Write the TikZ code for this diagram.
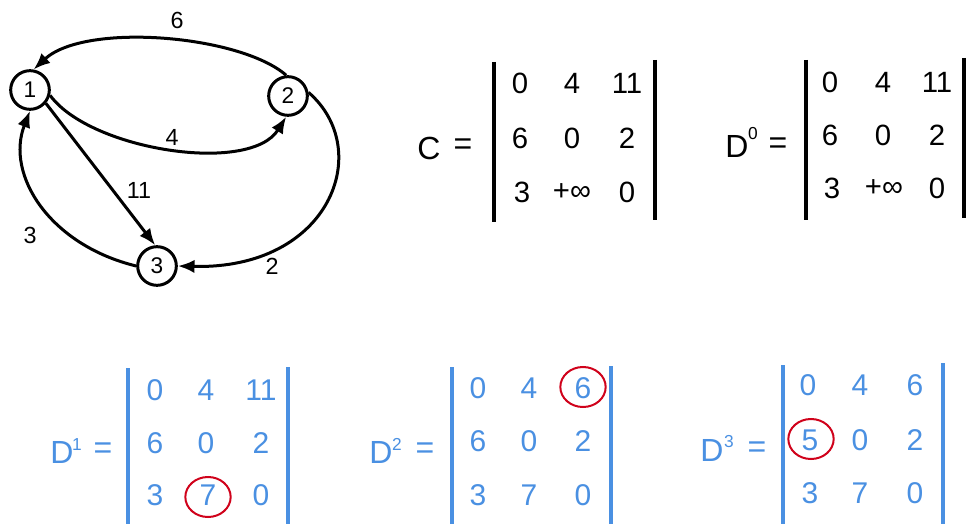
\documentclass[tikz,border=0pt]{standalone}
\usepackage{fontspec}
\setmainfont{Liberation Sans}
\usetikzlibrary{arrows.meta,shapes.geometric}
\definecolor{bl}{HTML}{4A90E2}
\definecolor{rd}{HTML}{D0021B}
\begin{document}
\begin{tikzpicture}[x=0.75pt,y=-0.75pt,
  vert/.style={draw, circle, line width=2.25pt, minimum size=29pt, inner sep=0pt, font=\fontsize{17}{20}\selectfont},
  edge/.style={line width=2.25pt, -{Latex[length=12.5pt,width=10pt]}},
  elab/.style={font=\fontsize{17.5}{20}\selectfont, inner sep=0pt},
  ent/.style={font=\fontsize{22}{26}\selectfont, inner sep=0pt},
  bent/.style={font=\fontsize{22.5}{27}\selectfont, inner sep=0pt, text=bl},
  big/.style={font=\fontsize{24}{28}\selectfont, inner sep=0pt},
  sup/.style={font=\fontsize{13}{15}\selectfont, inner sep=0pt},
  bar/.style={line width=3pt},
  bbar/.style={line width=2.6pt, draw=bl},
  hl/.style={draw=rd, ellipse, line width=1.5pt, minimum width=34pt, minimum height=30pt, inner sep=0pt}
]
\useasboundingbox (0,0) rectangle (967,524);

% graph
\node[vert] (n1) at (30,90) {1};
\node[vert] (n2) at (288,96) {2};
\node[vert] (n3) at (157,266) {3};

\draw[edge] (n2.95) .. controls (240,35) and (85,22) .. (n1.80);
\draw[edge] (n1.-15) .. controls (90,150) and (250,175) .. (n2.-95);
\draw[edge] (n1.-40) -- (n3.95);
\draw[edge] (n3.180) .. controls (50,245) and (5,175) .. (n1.-90);
\draw[edge] (n2.10) .. controls (375,150) and (330,270) .. (n3.0);

\node[elab] (l6) at (177,20) {6};
\node[elab] (l4) at (172,137) {4};
\node[elab] (l11) at (139,190) {11};
\node[elab] (l3) at (30,235) {3};
\node[elab] (l2) at (272,266) {2};

% matrix C
\node[big] (cC) at (429,148) {C};
\node[big] (cEq) at (463,147) {=};
\coordinate (cL1) at (494,62); \coordinate (cL2) at (494,222);
\coordinate (cR1) at (655,60); \coordinate (cR2) at (655,220);
\draw[bar] (cL1) -- (cL2);
\draw[bar] (cR1) -- (cR2);
\node[ent] (c11) at (520,83) {0};
\node[ent] (c12) at (572,83) {4};
\node[ent] (c13) at (627,83) {11};
\node[ent] (c21) at (520,138) {6};
\node[ent] (c22) at (572,138) {0};
\node[ent] (c23) at (627,138) {2};
\node[ent] (c31) at (522,192) {3};
\node[ent] (c32) at (572,192) {+∞};
\node[ent] (c33) at (627,192) {0};

% matrix D0
\node[big] (d0D) at (737,146) {D};
\node[sup] (d0s) at (753,134) {0};
\node[big] (d0Eq) at (778,146) {=};
\coordinate (d0L1) at (806,60); \coordinate (d0L2) at (806,220);
\coordinate (d0R1) at (964,58); \coordinate (d0R2) at (964,218);
\draw[bar] (d0L1) -- (d0L2);
\draw[bar] (d0R1) -- (d0R2);
\node[ent] (a11) at (830,82) {0};
\node[ent] (a12) at (883,82) {4};
\node[ent] (a13) at (937,82) {11};
\node[ent] (a21) at (830,135) {6};
\node[ent] (a22) at (883,135) {0};
\node[ent] (a23) at (937,135) {2};
\node[ent] (a31) at (832,188) {3};
\node[ent] (a32) at (884,188) {+∞};
\node[ent] (a33) at (937,188) {0};

% matrix D1
\node[big, text=bl] (d1D) at (62,452) {D};
\node[sup, text=bl] (d1s) at (77,445) {1};
\node[big, text=bl] (d1Eq) at (103,451) {=};
\coordinate (d1L1) at (128,368); \coordinate (d1L2) at (128,524);
\coordinate (d1R1) at (288,367); \coordinate (d1R2) at (288,524);
\draw[bbar] (d1L1) -- (d1L2);
\draw[bbar] (d1R1) -- (d1R2);
\node[bent] (b11) at (155,390) {0};
\node[bent] (b12) at (206,390) {4};
\node[bent] (b13) at (261,390) {11};
\node[bent] (b21) at (155,443) {6};
\node[bent] (b22) at (206,443) {0};
\node[bent] (b23) at (261,443) {2};
\node[bent] (b31) at (155,495) {3};
\node[bent] (b32) at (208,495) {7};
\node[bent] (b33) at (261,495) {0};
\node[hl] (h1) at (208,497) {};

% matrix D2
\node[big, text=bl] (d2D) at (381,452) {D};
\node[sup, text=bl] (d2s) at (397,444) {2};
\node[big, text=bl] (d2Eq) at (425,451) {=};
\coordinate (d2L1) at (452,367); \coordinate (d2L2) at (452,524);
\coordinate (d2R1) at (611,366); \coordinate (d2R2) at (611,524);
\draw[bbar] (d2L1) -- (d2L2);
\draw[bbar] (d2R1) -- (d2R2);
\node[bent] (e11) at (478,388) {0};
\node[bent] (e12) at (529,388) {4};
\node[bent] (e13) at (583,388) {6};
\node[bent] (e21) at (478,441) {6};
\node[bent] (e22) at (529,441) {0};
\node[bent] (e23) at (583,441) {2};
\node[bent] (e31) at (478,495) {3};
\node[bent] (e32) at (529,495) {7};
\node[bent] (e33) at (583,495) {0};
\node[hl] (h2) at (583,387) {};

% matrix D3
\node[big, text=bl] (d3D) at (712,450) {D};
\node[sup, text=bl] (d3s) at (729,442) {3};
\node[big, text=bl] (d3Eq) at (757,450) {=};
\coordinate (d3L1) at (783,365); \coordinate (d3L2) at (783,524);
\coordinate (d3R1) at (943,363); \coordinate (d3R2) at (943,524);
\draw[bbar] (d3L1) -- (d3L2);
\draw[bbar] (d3R1) -- (d3R2);
\node[bent] (f11) at (808,385) {0};
\node[bent] (f12) at (860,385) {4};
\node[bent] (f13) at (915,385) {6};
\node[bent] (f21) at (810,440) {5};
\node[bent] (f22) at (860,440) {0};
\node[bent] (f23) at (915,440) {2};
\node[bent] (f31) at (810,493) {3};
\node[bent] (f32) at (860,493) {7};
\node[bent] (f33) at (915,493) {0};
\node[hl] (h3) at (811,439) {};
\end{tikzpicture}
\end{document}
